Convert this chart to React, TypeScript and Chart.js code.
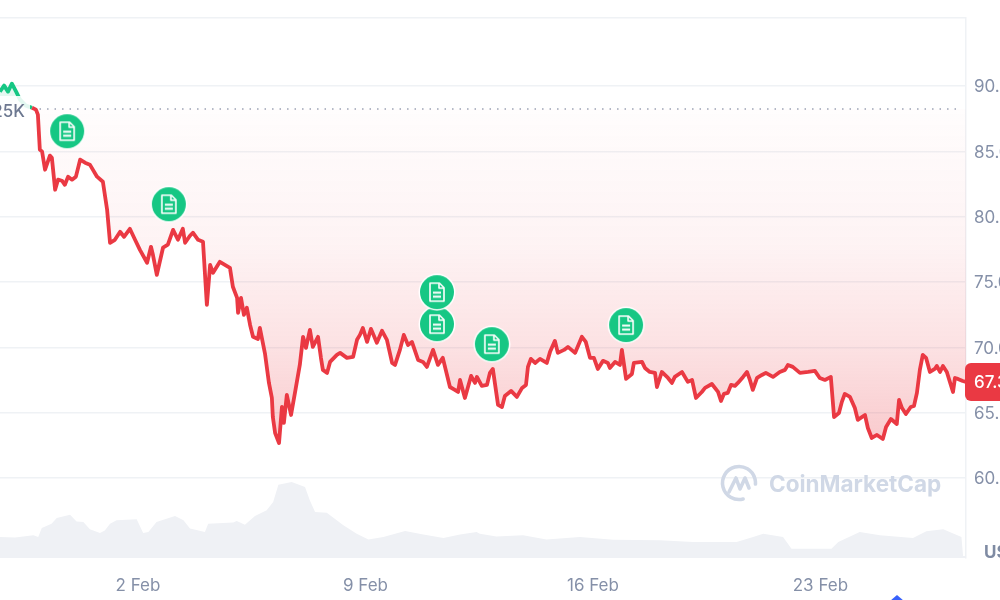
import React, { useEffect, useRef } from "react";
import { Chart, registerables } from "chart.js";

Chart.register(...registerables);

// x values are days counted from 1 Feb (0 and below are late January)
const priceDays = [
  -2.25, -2.12, -2.0, -1.88, -1.75, -1.63, -1.45, -1.26, -1.14, -1.08,
  -1.02, -0.95, -0.86, -0.71, -0.65, -0.55, -0.46, -0.34, -0.25, -0.15,
  -0.03, 0.09, 0.22, 0.37, 0.52, 0.74, 0.92, 1.05, 1.14, 1.29,
  1.45, 1.57, 1.75, 1.91, 2.06, 2.28, 2.4, 2.46, 2.58, 2.77,
  2.92, 3.08, 3.23, 3.38, 3.45, 3.6, 3.69, 3.85, 4.0, 4.12,
  4.22, 4.31, 4.52, 4.83, 4.92, 5.05, 5.08, 5.17, 5.26, 5.35,
  5.45, 5.54, 5.69, 5.75, 5.91, 6.03, 6.12, 6.15, 6.22, 6.34,
  6.43, 6.49, 6.58, 6.71, 6.83, 6.98, 7.08, 7.17, 7.29, 7.38,
  7.54, 7.63, 7.69, 7.82, 7.91, 8.12, 8.22, 8.43, 8.62, 8.74,
  8.83, 8.92, 9.05, 9.17, 9.35, 9.51, 9.66, 9.82, 9.91, 10.06,
  10.18, 10.31, 10.43, 10.62, 10.77, 10.89, 11.08, 11.23, 11.38, 11.6,
  11.75, 11.85, 11.91, 12.06, 12.25, 12.37, 12.43, 12.58, 12.74, 12.83,
  12.92, 13.08, 13.2, 13.29, 13.48, 13.66, 13.82, 13.94, 14.0, 14.09,
  14.22, 14.37, 14.58, 14.68, 14.83, 14.92, 15.11, 15.23, 15.45, 15.66,
  15.78, 15.91, 16.03, 16.15, 16.31, 16.46, 16.52, 16.68, 16.83, 16.89,
  17.02, 17.2, 17.26, 17.51, 17.6, 17.75, 17.91, 17.97, 18.12, 18.31,
  18.43, 18.52, 18.74, 18.92, 19.05, 19.17, 19.35, 19.45, 19.66, 19.85,
  19.94, 20.03, 20.15, 20.25, 20.37, 20.46, 20.62, 20.74, 20.83, 20.92,
  21.05, 21.2, 21.32, 21.54, 21.75, 21.91, 22.0, 22.15, 22.37, 22.62,
  22.83, 22.98, 23.14, 23.32, 23.42, 23.57, 23.66, 23.75, 23.91, 24.06,
  24.15, 24.37, 24.46, 24.58, 24.74, 24.92, 25.02, 25.17, 25.35, 25.42,
  25.51, 25.63, 25.78, 25.88, 25.97, 26.06, 26.15, 26.25, 26.37, 26.52,
  26.58, 26.68, 26.77, 26.89, 27.08, 27.14, 27.23, 27.38, 27.48,
];

// price in thousands
const prices = [
  89.58, 90.04, 89.58, 90.19, 89.58, 88.97, 88.51, 88.35, 88.2, 87.82,
  85.14, 84.98, 83.6, 84.68, 84.52, 82.07, 82.84, 82.76, 82.45, 83.07,
  82.84, 83.07, 84.37, 84.14, 83.99, 83.07, 82.68, 80.54, 78.01, 78.24,
  78.85, 78.47, 79.08, 78.24, 77.47, 76.48, 77.7, 77.09, 75.56, 77.63,
  77.86, 79.0, 78.24, 79.08, 78.01, 78.55, 78.78, 78.24, 78.09, 73.26,
  76.32, 75.71, 76.55, 76.09, 74.64, 73.79, 72.64, 73.79, 72.49, 73.03,
  71.72, 70.81, 70.65, 71.49, 69.5, 67.28, 66.13, 64.67, 63.45, 62.68,
  65.44, 64.22, 66.36, 64.83, 66.52, 68.66, 70.81, 69.96, 71.34, 70.04,
  70.81, 69.2, 68.28, 68.05, 68.89, 69.43, 69.58, 69.2, 69.27, 70.58,
  70.96, 71.49, 70.42, 71.42, 70.35, 71.27, 70.58, 68.81, 68.66, 69.81,
  70.96, 70.19, 70.42, 69.04, 68.89, 68.51, 69.81, 68.66, 69.2, 66.97,
  66.75, 66.59, 67.51, 66.13, 67.82, 67.28, 67.74, 67.05, 67.13, 68.05,
  68.35, 65.6, 65.44, 66.28, 66.67, 66.21, 66.9, 67.13, 68.51, 69.12,
  68.81, 69.12, 68.81, 69.66, 70.5, 69.58, 69.81, 70.04, 69.58, 70.81,
  70.42, 69.2, 69.2, 68.35, 68.97, 68.81, 68.43, 68.89, 68.66, 69.81,
  67.59, 67.97, 68.81, 68.89, 68.43, 68.12, 68.05, 66.97, 68.12, 67.66,
  67.28, 67.74, 68.12, 67.36, 67.51, 66.13, 66.59, 66.9, 67.2, 66.59,
  65.9, 66.44, 66.52, 67.13, 67.05, 67.28, 67.74, 68.12, 67.51, 66.75,
  67.66, 67.89, 68.05, 67.74, 68.12, 68.28, 68.66, 68.51, 68.05, 68.12,
  68.2, 67.66, 67.51, 67.74, 64.67, 64.98, 65.83, 66.44, 66.21, 65.36,
  64.45, 64.83, 63.83, 63.07, 63.3, 62.99, 63.91, 64.52, 64.14, 65.98,
  65.36, 64.9, 65.44, 65.52, 66.52, 68.28, 69.43, 69.2, 68.12, 68.35,
  68.58, 68.12, 68.58, 68.12, 66.59, 67.66, 67.59, 67.43, 67.36,
];

const volumeDays = [
  -2.25, -1.78, -1.22, -1.07, -0.96, -0.66, -0.5, -0.09, 0.11, 0.32,
  0.52, 0.83, 0.98, 1.14, 1.34, 1.96, 2.16, 2.32, 2.57, 3.14,
  3.4, 3.6, 4.06, 4.16, 4.93, 5.04, 5.29, 5.6, 5.96, 6.16,
  6.32, 6.73, 7.14, 7.29, 7.45, 7.81, 8.32, 8.73, 9.09, 9.55,
  10.22, 10.78, 11.4, 11.91, 12.42, 12.52, 13.03, 13.85, 14.57, 15.6,
  16.62, 18.06, 19.08, 20.42, 20.93, 21.24, 21.85, 22.11, 23.34, 23.55,
  24.21, 24.83, 25.85, 26.26, 26.78, 27.34, 27.39, 27.48,
];

// volume in billions
const volumes = [
  14.0, 13.6, 15.1, 14.0, 20.0, 22.9, 26.7, 28.9, 24.4, 24.0,
  19.1, 16.7, 18.4, 22.9, 25.1, 25.8, 16.7, 17.3, 24.0, 28.0,
  25.1, 19.6, 17.3, 22.9, 23.6, 24.7, 22.2, 28.0, 31.8, 37.3,
  48.9, 50.7, 47.3, 38.4, 30.7, 30.2, 21.8, 16.2, 12.4, 14.0,
  18.0, 15.6, 13.3, 15.6, 17.3, 16.2, 14.4, 15.1, 12.4, 14.0,
  12.2, 11.8, 10.7, 10.7, 14.0, 16.2, 14.0, 6.2, 6.2, 10.7,
  17.3, 15.1, 13.3, 17.8, 19.1, 14.0, 1.3, 1.3,
];

const newsDays = [-0.18, 2.95, 11.2, 11.2, 12.89, 17.02];
const newsPrices = [86.55, 80.96, 71.78, 74.23, 70.25, 71.71];

const basePrice = 88.25;
const priceTicks = [60, 65, 70, 75, 80, 85, 90];
const dayTicks = [2, 9, 16, 23];

const xMin = -2.246;
const xMax = 27.48;
const yMin = 53.88;
const yMax = 95.2;

const RED = "#ea3943";
const GREEN = "#16c784";
const GRID = "#eff2f5";
const AXIS_TEXT = "#8590a8";
const FONT = "Inter";

// green bubble with a document glyph, used as the point style of the news marks
const makeNewsIcon = () => {
  const size = 38;
  const c = document.createElement("canvas");
  c.width = size;
  c.height = size;
  const g = c.getContext("2d") as CanvasRenderingContext2D;
  const m = size / 2;
  g.fillStyle = "#ffffff";
  g.beginPath();
  g.arc(m, m, 18.5, 0, Math.PI * 2);
  g.fill();
  g.fillStyle = GREEN;
  g.beginPath();
  g.arc(m, m, 17, 0, Math.PI * 2);
  g.fill();
  g.strokeStyle = "#ffffff";
  g.lineWidth = 1.6;
  g.lineJoin = "round";
  g.beginPath();
  g.moveTo(m - 7, m - 9);
  g.lineTo(m + 2.5, m - 9);
  g.lineTo(m + 7, m - 4.5);
  g.lineTo(m + 7, m + 9);
  g.lineTo(m - 7, m + 9);
  g.closePath();
  g.stroke();
  g.beginPath();
  g.moveTo(m + 2, m - 9);
  g.lineTo(m + 2, m - 4);
  g.lineTo(m + 7, m - 4);
  g.stroke();
  g.lineWidth = 2;
  g.beginPath();
  g.moveTo(m - 4, m + 0.5);
  g.lineTo(m + 4, m + 0.5);
  g.moveTo(m - 4, m + 4.5);
  g.lineTo(m + 4, m + 4.5);
  g.stroke();
  return c;
};

// everything the library has no element for: tag, watermark, clipped labels
const overlayPlugin = {
  id: "overlay",
  afterDatasetsDraw(chart: any) {
    const { ctx, scales } = chart;
    const y = scales.y;
    ctx.save();

    // base price label, partly outside the page on the left
    ctx.fillStyle = "rgba(255,255,255,0.88)";
    ctx.fillRect(0, 96, 30, 26);
    ctx.font = `500 17px ${FONT}`;
    ctx.fillStyle = "#6c7890";
    ctx.textAlign = "right";
    ctx.textBaseline = "middle";
    ctx.fillText(`${basePrice.toFixed(2)}K`, 25, 112);

    // current price tag
    const last = prices[prices.length - 1];
    const tagY = y.getPixelForValue(last);
    ctx.fillStyle = RED;
    ctx.beginPath();
    ctx.roundRect(965, tagY - 19, 50, 38, 6);
    ctx.fill();
    ctx.fillStyle = "#ffffff";
    ctx.textAlign = "left";
    ctx.fillText(`${last.toFixed(2)}K`, 974, tagY + 1);

    // currency
    ctx.font = `700 17px ${FONT}`;
    ctx.fillStyle = "#7f8ba3";
    ctx.fillText("USD", 984, 553);

    // watermark
    ctx.strokeStyle = "#d0d8e6";
    ctx.lineWidth = 3.6;
    ctx.lineCap = "round";
    ctx.lineJoin = "round";
    ctx.beginPath();
    ctx.arc(739, 483, 16.5, Math.PI * 0.42, Math.PI * 2.02);
    ctx.stroke();
    ctx.beginPath();
    ctx.moveTo(729, 492);
    ctx.lineTo(736, 478);
    ctx.lineTo(740, 489);
    ctx.lineTo(745, 478);
    ctx.lineTo(749, 488);
    ctx.stroke();
    ctx.font = `700 22.5px ${FONT}`;
    ctx.fillStyle = "#d0d8e6";
    ctx.fillText("CoinMarketCap", 769, 485);

    // tip of something cut off by the bottom of the page
    ctx.fillStyle = "#3861fb";
    ctx.beginPath();
    ctx.moveTo(897, 595);
    ctx.lineTo(904, 601);
    ctx.lineTo(890, 601);
    ctx.closePath();
    ctx.fill();

    ctx.restore();
  },
};

const App = () => {
  const canvasRef = useRef<HTMLCanvasElement | null>(null);

  useEffect(() => {
    const ctx = canvasRef.current?.getContext("2d");
    if (!ctx) return;

    const downFill = ctx.createLinearGradient(0, 108, 0, 445);
    downFill.addColorStop(0, "rgba(234,57,67,0.01)");
    downFill.addColorStop(0.4, "rgba(234,57,67,0.06)");
    downFill.addColorStop(0.71, "rgba(234,57,67,0.15)");
    downFill.addColorStop(1, "rgba(234,57,67,0.27)");

    const chart = new Chart(ctx, {
      type: "line",
      data: {
        datasets: [
          {
            type: "scatter",
            order: 0,
            data: newsDays.map((d, i) => ({ x: d, y: newsPrices[i] })),
            pointStyle: makeNewsIcon(),
            pointRadius: 19,
            yAxisID: "y",
          },
          {
            order: 1,
            data: priceDays.map((d, i) => ({ x: d, y: prices[i] })),
            borderColor: RED,
            borderWidth: 3.8,
            borderJoinStyle: "round",
            pointRadius: 0,
            tension: 0,
            segment: {
              borderColor: (c: any) => (c.p1.parsed.y > basePrice ? GREEN : RED),
            },
            fill: {
              target: { value: basePrice },
              above: "rgba(22,199,132,0.12)",
              below: downFill,
            },
            yAxisID: "y",
          },
          {
            order: 2,
            data: [
              { x: priceDays[7], y: basePrice },
              { x: 27.3, y: basePrice },
            ],
            borderColor: "#9aa3b5",
            borderWidth: 1.5,
            borderDash: [1.5, 6],
            pointRadius: 0,
            yAxisID: "y",
          },
          {
            order: 3,
            data: volumeDays.map((d, i) => ({ x: d, y: volumes[i] })),
            borderWidth: 0,
            backgroundColor: "#eff1f5",
            pointRadius: 0,
            fill: "origin",
            yAxisID: "volume",
          },
        ] as any,
      },
      options: {
        responsive: false,
        animation: false,
        events: [],
        layout: { autoPadding: false, padding: { top: 18, left: 0, right: 0, bottom: 0 } },
        plugins: { legend: { display: false }, tooltip: { enabled: false } },
        scales: {
          x: {
            type: "linear",
            min: xMin,
            max: xMax,
            grid: { display: false },
            border: { display: false },
            afterBuildTicks: (s: any) => {
              s.ticks = dayTicks.map((value) => ({ value }));
            },
            afterFit: (s: any) => {
              s.height = 42;
            },
            ticks: {
              autoSkip: false,
              maxRotation: 0,
              padding: 10,
              color: AXIS_TEXT,
              font: { family: FONT, size: 17 },
              callback: (v: any) => `${v} Feb`,
            },
          },
          y: {
            position: "right",
            min: yMin,
            max: yMax,
            grid: { color: GRID, lineWidth: 1.5, drawTicks: false },
            border: { display: true, color: GRID, width: 1.5 },
            afterBuildTicks: (s: any) => {
              s.ticks = [...priceTicks, yMax].map((value) => ({ value }));
            },
            afterFit: (s: any) => {
              s.width = 34;
            },
            ticks: {
              autoSkip: false,
              padding: 8,
              labelOffset: 1,
              color: AXIS_TEXT,
              font: { family: FONT, size: 17 },
              callback: (v: any) => (v === yMax ? "" : `${v.toFixed(2)}K`),
            },
          },
          volume: {
            display: false,
            min: 0,
            max: 360,
          },
        },
      } as any,
      plugins: [overlayPlugin],
    });

    return () => {
      chart.destroy();
    };
  }, []);

  return (
    <div style={{ position: "fixed", left: 0, top: 0, width: 1000, height: 600, background: "#ffffff" }}>
      <canvas ref={canvasRef} width={1000} height={600} style={{ display: "block" }} />
    </div>
  );
};

export default App;
